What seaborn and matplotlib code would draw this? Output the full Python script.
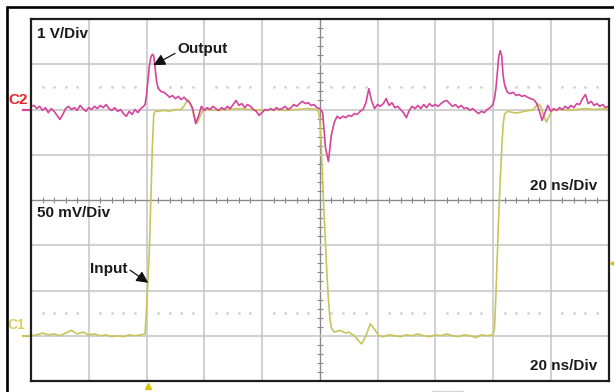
import numpy as np
import pandas as pd
import matplotlib.pyplot as plt
from matplotlib.lines import Line2D
import seaborn as sns

# C2 = output, volts, time in ns
out_t = [0, 1, 2, 3, 4, 5, 6, 7, 8, 9, 10, 11, 12, 13, 14, 15, 16, 17, 18, 19,
         20, 21, 22, 23, 24, 25, 26, 27, 28, 29, 30, 31, 32, 33, 34, 35, 36, 37, 38, 39,
         39.5, 40, 40.5, 41, 41.5, 42, 42.5, 43, 43.5, 44,
         45, 46, 47, 48, 49, 50, 51, 52, 53, 54, 55, 56, 57, 58, 59, 60, 61, 62, 63, 64,
         65, 66, 67, 68, 69, 70, 71, 72, 73, 74, 75, 76, 77, 78, 79, 80, 81, 82, 83, 84,
         85, 86, 87, 88, 89, 90, 91, 92, 93, 94, 95, 96, 97, 98, 99, 100,
         101, 102, 103, 104, 105, 106, 107, 108, 109, 110, 111, 112, 113, 114, 115, 116, 117, 118, 119, 120,
         121, 122, 123, 124, 125, 126, 127, 128, 129, 130, 131, 132, 133, 134, 135, 136, 137, 138, 139, 140,
         141, 142, 143, 144, 145, 146, 147, 148, 149, 150, 151, 152, 153, 154, 155, 156, 157, 158, 159, 160,
         160.5, 161, 161.5, 162, 162.5, 163, 163.5, 164,
         165, 166, 167, 168, 169, 170, 171, 172, 173, 174, 175, 176, 177, 178, 179, 180, 181, 182, 183, 184,
         185, 186, 187, 188, 189, 190, 191, 192, 193, 194, 195, 196, 197, 198, 199, 200]
out_v = [0.07, 0.09, 0.02, 0.07, -0.02, 0.04, -0.07, 0.02, -0.04, -0.13,
         -0.22, -0.11, 0.02, 0.07, 0.0, 0.04, -0.02, 0.09, 0.02, -0.04,
         0.04, 0.0, 0.07, 0.02, 0.09, 0.04, 0.11, 0.02, -0.02, 0.04,
         -0.04, 0.0, -0.09, -0.15, -0.04, -0.11, 0.0, -0.07, 0.02, 0.07,
         0.11, 0.31, 0.64, 0.97, 1.15, 1.22, 1.19, 0.9, 0.62, 0.47,
         0.40, 0.38, 0.33, 0.27, 0.31, 0.24, 0.29, 0.22, 0.27, 0.20,
         0.15, 0.02, -0.31, -0.15, 0.07, -0.02, 0.04, 0.0, 0.07, 0.02,
         -0.02, 0.04, 0.0, 0.07, 0.02, 0.11, 0.20, 0.09, 0.13, 0.04,
         0.11, 0.07, 0.0, -0.04, -0.13, -0.07, 0.0, -0.02, 0.02, -0.02,
         0.04, 0.0, 0.02, 0.07, 0.0, 0.04, 0.11, 0.07, 0.13, 0.18,
         0.13, 0.15, 0.09, 0.11, 0.04, 0.02,
         -0.07, -0.85, -1.15, -0.57, -0.29, -0.15, -0.20, -0.15, -0.18, -0.13,
         -0.15, -0.09, -0.11, -0.04, 0.0, 0.15, 0.46, 0.18, 0.02, 0.11,
         0.07, 0.13, 0.24, 0.09, 0.15, 0.04, 0.07, 0.0, -0.07, -0.18,
         -0.02, 0.07, 0.02, 0.09, 0.02, 0.11, 0.04, 0.13, 0.07, 0.11,
         0.07, 0.13, 0.18, 0.20, 0.13, 0.07, 0.11, 0.04, 0.09, 0.02,
         0.04, -0.02, 0.02, -0.04, -0.09, -0.04, -0.07, 0.0, 0.04, 0.11,
         0.24, 0.46, 0.82, 1.17, 1.30, 1.19, 0.75, 0.55,
         0.38, 0.35, 0.38, 0.31, 0.33, 0.29, 0.31, 0.27, 0.24, 0.22,
         0.15, -0.02, -0.24, -0.07, 0.09, -0.04, 0.02, -0.02, 0.04, 0.0,
         0.07, 0.02, 0.09, 0.04, 0.13, 0.11, 0.24, 0.33, 0.13, 0.18,
         0.09, 0.13, 0.07, 0.11, 0.04, 0.07]

# C1 = input, mV
in_t = [0, 2, 4, 6, 8, 10, 12, 14, 16, 18,
        20, 22, 24, 26, 28, 30, 32, 34, 36, 38,
        39.5, 40, 40.5, 41, 41.5, 42, 42.5, 43, 44, 46,
        48, 50, 52, 53, 54.4, 55.5, 56.5, 57.5, 58.5, 59.5,
        61, 64, 68, 72, 76, 80, 84, 88, 92, 96,
        99, 99.5, 100, 100.5, 101, 101.5, 102, 102.5, 103, 103.5,
        104, 105, 107, 109, 110, 112, 113, 114.5, 116, 117.5,
        119, 120.5, 122, 124, 126, 128, 130, 132, 134, 136,
        138, 140, 142, 144, 146, 148, 150, 152, 154, 156,
        158, 160, 160.5, 161, 161.5, 162, 162.5, 163, 163.5, 164,
        165, 168, 171, 174, 175.5, 176.5, 177.5, 178.5, 179.5, 180.5,
        183, 186, 189, 192, 195, 198, 200]
in_mv = [0, 1, 3, 1, 2, 0, 3, 6, 2, 4,
         1, 2, 0, 1, -1, 0, -1, 1, 0, 1,
         2, 29, 62, 95, 150, 206, 244, 248, 248, 249,
         248, 250, 250, 254, 261, 254, 242, 235, 242, 249,
         250, 249, 250, 251, 250, 249, 250, 249, 250, 251,
         250, 248, 239, 211, 172, 134, 101, 67, 40, 20,
         9, 4, 6, 3, 4, 0, -4, -9, 0, 13,
         7, 0, -1, 1, 0, -1, 1, 0, 2, 0,
         -1, 1, 0, 2, 0, -1, 1, 0, -2, 1,
         0, 1, 7, 45, 90, 134, 172, 206, 233, 245,
         248, 246, 248, 250, 256, 254, 244, 236, 243, 249,
         250, 249, 250, 251, 250, 251, 250]

out_scale, out_offset = 1.0, 6     # 1 V/Div, C2 ground at div 6
in_scale, in_offset = 50.0, 1      # 50 mV/Div, C1 ground at div 1
trig_t, trig_mv = 40.5, 80

PINK = "#d4449c"
YEL = "#c9c45a"
TRIG = "#d6c400"

sns.set_style("white")
plt.rcParams['font.family'] = ['Liberation Sans', 'DejaVu Sans']

fig = plt.figure(figsize=(6.14, 3.92), dpi=100)
ax = fig.add_axes([31 / 614, 11 / 392, 577.5 / 614, 362 / 392])

df_out = pd.DataFrame({"t": out_t, "div": out_offset + np.array(out_v) / out_scale})
df_in = pd.DataFrame({"t": in_t, "div": in_offset + np.array(in_mv) / in_scale})

# graticule
for t in range(20, 200, 20):
    if t == 100:
        ax.axvline(t, color="#8a8a8a", lw=1.0, zorder=1)
    else:
        ax.axvline(t, color="#c8c8c8", lw=1.2, zorder=1)
for y in range(1, 8):
    if y == 4:
        ax.axhline(y, color="#8a8a8a", lw=1.0, zorder=1)
    else:
        ax.axhline(y, color="#c8c8c8", lw=1.2, zorder=1)

minor_t = [t for t in np.arange(4, 200, 4) if t % 20 != 0]
minor_y = [y for y in np.arange(0.2, 8, 0.2) if abs(y - round(y)) > 0.05]
for yd in (6.5, 1.5):
    ax.plot(minor_t, [yd] * len(minor_t), ls="none", marker="s", ms=0.9,
            color="#d2d2d2", zorder=1)
ax.plot(minor_t, [4] * len(minor_t), ls="none", marker="|", ms=4,
        mew=0.8, color="#8a8a8a", zorder=1)
ax.plot([100] * len(minor_y), minor_y, ls="none", marker="_", ms=4,
        mew=0.8, color="#8a8a8a", zorder=1)

sns.lineplot(data=df_in, x="t", y="div", color=YEL, lw=1.2, ax=ax,
             estimator=None, sort=False, zorder=4)
sns.lineplot(data=df_out, x="t", y="div", color=PINK, lw=1.2, ax=ax,
             estimator=None, sort=False, zorder=5)

ax.set_xlim(0, 200)
ax.set_ylim(0, 8)
ax.set_xticks([])
ax.set_yticks([])
ax.set_xlabel("")
ax.set_ylabel("")
for s in ax.spines.values():
    s.set_visible(True)
    s.set_color("#1e1e1e")
    s.set_linewidth(1.6)
    s.set_zorder(6)

# channel markers and labels
ax.hlines(out_offset, -3.1, 0, color=PINK, lw=1.6, clip_on=False)
ax.hlines(in_offset, -3.1, 0, color=YEL, lw=1.6, clip_on=False)
ax.text(-1.0, out_offset + 0.21, "C2", ha="right", va="center", color="#e8232b",
        fontsize=11, fontweight="bold", clip_on=False)
ax.text(-2.0, in_offset + 0.24, "C1", ha="right", va="center", color="#d6ce62",
        fontsize=10, fontweight="bold", clip_on=False)
ax.plot([trig_t], [-0.1], marker="^", ms=5, color=TRIG, clip_on=False, zorder=7)
ax.plot([201.4], [in_offset + trig_mv / in_scale], marker="<", ms=4,
        color=TRIG, clip_on=False, zorder=7)

bold = dict(fontsize=11, fontweight="bold", color="#1a1a1a", va="center", zorder=8)
ax.text(2.1, 7.67, "1 V/Div", ha="left", **bold)
ax.text(50.6, 7.34, "Output", ha="left", **bold)
ax.text(196, 4.31, "20 ns/Div", ha="right", **bold)
ax.text(2.1, 3.71, "50 mV/Div", ha="left", **bold)
ax.text(20.4, 2.48, "Input", ha="left", **bold)
ax.text(196, 0.33, "20 ns/Div", ha="right", **bold)

arrow = dict(arrowstyle="-|>,head_length=0.5,head_width=0.25", color="#111111",
             lw=0.9, mutation_scale=14, shrinkA=0, shrinkB=0)
ax.annotate("", xy=(42.4, 6.98), xytext=(49.9, 7.24), arrowprops=arrow, zorder=8)
ax.annotate("", xy=(40.6, 2.17), xytext=(34.3, 2.45), arrowprops=arrow, zorder=8)

# outer frame
fig.add_artist(Line2D([7 / 614, 7 / 614], [0, 385 / 392], color="black", lw=1.9))
fig.add_artist(Line2D([7 / 614, 1], [385 / 392, 385 / 392], color="black", lw=1.9))
fig.add_artist(Line2D([432 / 614, 463 / 614], [1.2 / 392, 1.2 / 392], color="#d8d8d8", lw=1))

fig.savefig("out.png", dpi=100)
